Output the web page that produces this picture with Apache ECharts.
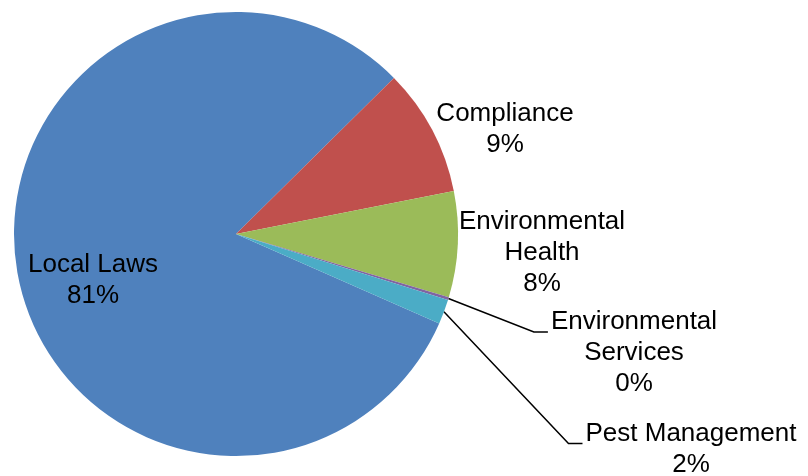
<!DOCTYPE html>
<html>
<head>
<meta charset="utf-8">
<script src="https://cdn.jsdelivr.net/npm/echarts@6/dist/echarts.min.js"></script>
<style>
html,body{margin:0;padding:0;background:#fff;}
#chart{width:808px;height:476px;}
</style>
</head>
<body>
<div id="chart"></div>
<script>
// Data
var categories = ['Local Laws', 'Compliance', 'Environmental\nHealth', 'Environmental\nServices', 'Pest Management'];
var values = [81.0, 9.3, 7.7, 0.2, 1.8];
var colors = ['#4F81BD', '#C0504D', '#9BBB59', '#8064A2', '#4BACC6'];

// Label placement (block centres, px) and whether a leader line is drawn
var labelCenters = [[93, 280], [505, 129], [542, 253], [634, 353], [691, 449]];
var leader = [false, false, false, true, true];
var LINE_H = 31;

var chart = echarts.init(document.getElementById('chart'), null, {renderer: 'canvas'});

var data = categories.map(function (c, i) {
  return {
    name: c,
    value: values[i],
    itemStyle: {color: colors[i]},
    labelLine: {show: leader[i]}
  };
});

chart.setOption({
  animation: false,
  backgroundColor: '#ffffff',
  series: [{
    type: 'pie',
    center: [236, 234],
    radius: 222,
    startAngle: 336.25,
    clockwise: true,
    avoidLabelOverlap: false,
    data: data,
    itemStyle: {borderWidth: 0},
    label: {
      show: true,
      position: 'outside',
      color: '#000',
      fontFamily: 'Liberation Sans, Arial, sans-serif',
      fontSize: 26,
      lineHeight: LINE_H,
      align: 'center',
      formatter: function (p) {
        return p.name + '\n' + Math.round(p.percent) + '%';
      }
    },
    labelLine: {
      show: true,
      lineStyle: {color: '#000', width: 1.5}
    },
    labelLayout: function (params) {
      var i = params.dataIndex;
      var c = labelCenters[i];
      var res = {x: c[0], y: c[1], align: 'center', verticalAlign: 'middle'};
      if (leader[i] && params.labelLinePoints) {
        var start = params.labelLinePoints[0];
        var w = params.labelRect.width;
        var lines = categories[i].split('\n').length + 1;
        var h = lines * LINE_H;
        var lineY = c[1] - h / 2 + LINE_H / 2 + 10;
        var endX = c[0] - w / 2 - 3;
        res.labelLinePoints = [start, [endX - 14, lineY], [endX, lineY]];
      }
      return res;
    }
  }]
});
</script>
</body>
</html>
